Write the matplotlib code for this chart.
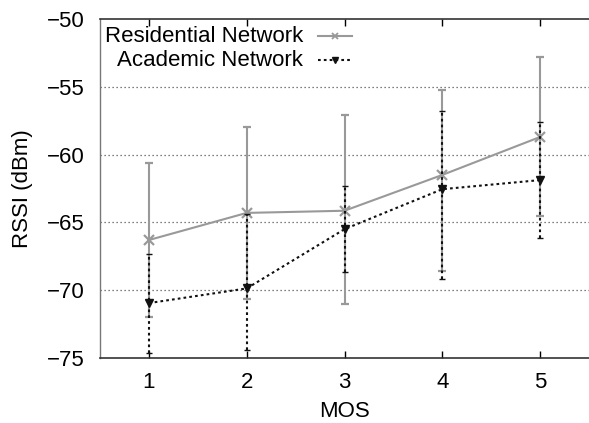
import numpy as np
import matplotlib
matplotlib.use("Agg")
import matplotlib.pyplot as plt

plt.rcParams['font.family'] = ['Liberation Sans', 'DejaVu Sans']

mos = [1, 2, 3, 4, 5]

res_mean = [-66.3, -64.3, -64.14, -61.5, -58.7]
res_low = [-72.0, -70.65, -71.05, -68.6, -64.55]
res_high = [-60.65, -57.95, -57.09, -55.25, -52.83]

acad_mean = [-70.95, -69.87, -65.5, -62.55, -61.88]
acad_low = [-74.6, -74.4, -68.65, -69.2, -66.18]
acad_high = [-67.3, -64.4, -62.3, -56.77, -57.58]

series_labels = ["Residential Network", "Academic Network"]
yticks = [-75, -70, -65, -60, -55, -50]

FS = 16

fig = plt.figure(figsize=(5.89, 4.23), dpi=100)
ax = fig.add_axes([100 / 589, 1 - 358 / 423, 1 - 100 / 589, (358 - 19) / 423])

gray = "#999999"
dark = "#111111"
dots = (0, (1.3, 1.5))

# horizontal dotted grid
for yv in yticks[1:-1]:
    ax.axhline(yv, color="#555555", lw=0.9, ls=(0, (1, 2.2)), zorder=0)

x = np.array(mos, dtype=float)

def draw(mean, low, high, color, ls, marker, ms, mew, cap, z):
    mean = np.array(mean)
    err = [mean - np.array(low), np.array(high) - mean]
    eb = ax.errorbar(x, mean, yerr=err, color=color, ls=ls, lw=1.5,
                     marker=marker, ms=ms, mew=mew, mfc=color, mec=color,
                     capsize=cap, capthick=1.2, elinewidth=1.5, zorder=z)
    for bl in eb[2]:
        bl.set_linestyle(ls)
    return eb

draw(res_mean, res_low, res_high, gray, "-", "x", 7, 1.6, 2.6, 3)
draw(acad_mean, acad_low, acad_high, dark, dots, "v", 5.5, 1.0, 2.0, 4)

ax.set_xlim(0.5, 5.5)
ax.set_ylim(-75, -50)
ax.set_xticks(mos)
ax.set_yticks(yticks)
ax.set_yticklabels(["\u2212%d" % abs(v) for v in yticks])
ax.tick_params(axis="both", direction="in", labelsize=FS, length=5,
               width=1, top=True, right=False, pad=10)
ax.tick_params(axis="y", length=0, pad=11)
ax.spines["left"].set_color("#777777")
ax.spines["left"].set_linewidth(1.0)
for side in ["bottom", "top"]:
    ax.spines[side].set_color("#333333")
    ax.spines[side].set_linewidth(1.2)
ax.spines["right"].set_visible(False)

ax.set_xlabel("MOS", fontsize=FS, labelpad=6)
ax.set_ylabel("RSSI (dBm)", fontsize=FS, labelpad=10)

# key drawn in the gnuplot manner: right-aligned text with sample to the right
def key_entry(ypix, label, color, ls, marker, ms, mew):
    fy = 1 - ypix / 423
    fig.text(303 / 589, fy, label, ha="right", va="center", fontsize=FS)
    fig.add_artist(plt.Line2D([318 / 589, 352 / 589], [fy, fy], color=color,
                              ls=ls, lw=1.5, transform=fig.transFigure))
    fig.add_artist(plt.Line2D([335 / 589], [fy], color=color, marker=marker,
                              ms=ms, mew=mew, mfc=color, mec=color, ls="none",
                              transform=fig.transFigure))

key_entry(36, series_labels[0], gray, "-", "x", 5, 1.3)
key_entry(60, series_labels[1], dark, dots, "v", 4.5, 1.0)

fig.savefig("out.png", dpi=100)
